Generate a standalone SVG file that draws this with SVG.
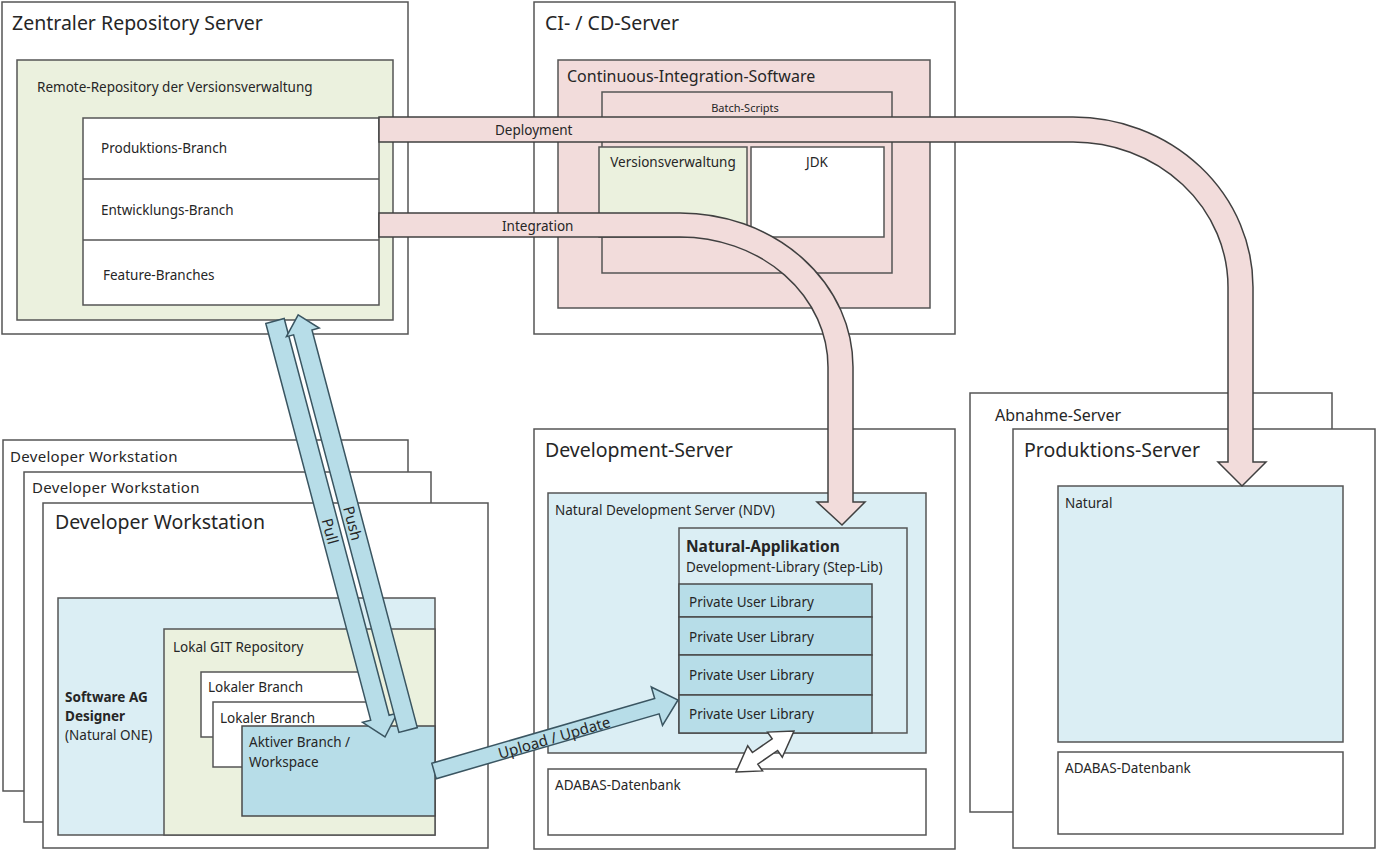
<svg xmlns="http://www.w3.org/2000/svg" width="1380" height="860" viewBox="0 0 1380 860">
<style>
text{font-family:"Noto Sans","Open Sans","Liberation Sans",sans-serif;fill:#262626}
.box{fill:#ffffff;stroke:#555555;stroke-width:1.5}
.grn{fill:#ebf1de;stroke:#555555;stroke-width:1.5}
.lb{fill:#dbeef4;stroke:#555555;stroke-width:1.5}
.mb{fill:#b7dde8;stroke:#4a4a4a;stroke-width:1.5}
.pk{fill:#f2dcdb;stroke:#555555;stroke-width:1.5}
.pkarrow{fill:#f2dcdb;stroke:#404040;stroke-width:1.5}
.blarrow{fill:#b7dde8;stroke:#3a5561;stroke-width:1.5}
.wharrow{fill:#ffffff;stroke:#404040;stroke-width:1.5}
.t19{font-size:19.5px}
.t16{font-size:16px}
.t15{font-size:15px}
.t15b{font-size:15.5px;font-weight:bold}
.t13{font-size:13.5px}
.t11{font-size:11px}
.b{font-weight:bold}
.lbl{font-size:15px}
</style>

<g id="zentraler-repository-server">
<rect class="box" x="2" y="2" width="406" height="332"/>
<text class="t19" x="12" y="30">Zentraler Repository Server</text>
<rect class="grn" x="17" y="60" width="376" height="260"/>
<text class="t13" x="37" y="92">Remote-Repository der Versionsverwaltung</text>
<rect class="box" x="83" y="118" width="296" height="187"/>
<line x1="83" y1="179" x2="379" y2="179" stroke="#555" stroke-width="1.5"/>
<line x1="83" y1="240" x2="379" y2="240" stroke="#555" stroke-width="1.5"/>
<text class="t13" x="101" y="153">Produktions-Branch</text>
<text class="t13" x="101" y="215">Entwicklungs-Branch</text>
<text class="t13" x="103" y="280">Feature-Branches</text>
</g>

<g id="ci-cd-server">
<rect class="box" x="534" y="2" width="421" height="332"/>
<text class="t19" x="545" y="30">CI- / CD-Server</text>
<rect class="pk" x="558" y="60" width="372" height="248"/>
<text class="t16" x="567" y="82">Continuous-Integration-Software</text>
<rect class="pk" x="602" y="92" width="290" height="181"/>
<text class="t11" x="745" y="112" text-anchor="middle">Batch-Scripts</text>
<rect class="grn" x="599" y="147" width="148" height="90"/>
<text class="t13" x="673" y="167" text-anchor="middle">Versionsverwaltung</text>
<rect class="box" x="751" y="147" width="133" height="90"/>
<text class="t13" x="817" y="167" text-anchor="middle">JDK</text>
</g>

<g id="developer-workstation-3">
<rect class="box" x="3" y="440" width="405" height="351"/>
<text class="t15" x="10" y="462" letter-spacing="0.3">Developer Workstation</text>
</g>
<g id="developer-workstation-2">
<rect class="box" x="24" y="472" width="407" height="350"/>
<text class="t15" x="32" y="493" letter-spacing="0.3">Developer Workstation</text>
</g>
<g id="developer-workstation">
<rect class="box" x="43" y="503" width="445" height="345"/>
<text class="t19" x="55" y="529">Developer Workstation</text>
<rect class="lb" x="58" y="598" width="377" height="237"/>
<text class="t13 b" x="65" y="702">Software AG</text>
<text class="t13 b" x="65" y="721">Designer</text>
<text class="t13" x="65" y="740">(Natural ONE)</text>
<rect class="grn" x="164" y="629" width="271" height="206"/>
<text class="t13" x="173" y="652">Lokal GIT Repository</text>
<rect class="box" x="201" y="672" width="170" height="65"/>
<text class="t13" x="208" y="692">Lokaler Branch</text>
<rect class="box" x="213" y="702" width="172" height="65"/>
<text class="t13" x="220" y="723">Lokaler Branch</text>
<rect class="mb" x="242" y="726" width="193" height="90"/>
<text class="t13" x="249" y="747">Aktiver Branch /</text>
<text class="t13" x="249" y="767">Workspace</text>
</g>

<g id="development-server">
<rect class="box" x="534" y="429" width="421" height="420"/>
<text class="t19" x="545" y="457">Development-Server</text>
<rect class="lb" x="548" y="493" width="378" height="260"/>
<text class="t13" x="555" y="515">Natural Development Server (NDV)</text>
<rect class="lb" x="679" y="528" width="228" height="205"/>
<text class="t15b" x="686" y="552">Natural-Applikation</text>
<text class="t13" x="686" y="572">Development-Library (Step-Lib)</text>
<rect class="mb" x="679" y="584" width="193" height="33"/>
<rect class="mb" x="679" y="617" width="193" height="38"/>
<rect class="mb" x="679" y="655" width="193" height="40"/>
<rect class="mb" x="679" y="695" width="193" height="38"/>
<text class="t13" x="689" y="607">Private User Library</text>
<text class="t13" x="689" y="642">Private User Library</text>
<text class="t13" x="689" y="680">Private User Library</text>
<text class="t13" x="689" y="719">Private User Library</text>
<rect class="box" x="548" y="769" width="378" height="66"/>
<text class="t13" x="555" y="790">ADABAS-Datenbank</text>
</g>

<g id="abnahme-server">
<rect class="box" x="970" y="393" width="362" height="419"/>
<text class="t16" x="995" y="421">Abnahme-Server</text>
</g>

<g id="produktions-server">
<rect class="box" x="1013" y="429" width="362" height="419"/>
<text class="t19" x="1024" y="457">Produktions-Server</text>
<rect class="lb" x="1058" y="486" width="285" height="256"/>
<text class="t13" x="1065" y="508">Natural</text>
<rect class="box" x="1058" y="752" width="285" height="82"/>
<text class="t13" x="1065" y="773">ADABAS-Datenbank</text>
</g>

<g id="connectors">
<path id="deployment" class="pkarrow" d="M379,117 L1073,117 A180,170 0 0 1 1253,287 L1253,462 L1266,462 L1242,486 L1218,462 L1228,462 L1228,287 A155,145 0 0 0 1073,142 L379,142 Z"/>
<text class="t13" x="495" y="135">Deployment</text>
<path id="integration" class="pkarrow" d="M379,213 L680,213 A173,154 0 0 1 853,367 L853,502 L865,502 L842,525 L817,502 L828,502 L828,367 A148,130 0 0 0 680,237 L379,237 Z"/>
<text class="t13" x="502" y="231">Integration</text>
<polygon id="pull" class="blarrow" points="265.8,323.5 284.2,318.5 389.1,715.3 397.3,713.1 385,737 362.5,722.3 370.7,720.1"/>
<polygon id="push" class="blarrow" points="298.2,314.9 319.2,328 312,330 417.3,727.6 398.9,732.4 293.6,334.8 286.4,336.7"/>
<text class="lbl" transform="translate(330.6,531) rotate(75.2)" text-anchor="middle" dominant-baseline="central">Pull</text>
<text class="lbl" transform="translate(353.3,523) rotate(75.2)" text-anchor="middle" dominant-baseline="central">Push</text>
<polygon id="upload" class="blarrow" points="431.8,763.3 654.7,698.5 651.3,687 678,700 662.5,725.4 659.1,713.9 436.2,778.7"/>
<text class="lbl" transform="translate(554,737) rotate(-16.3)" text-anchor="middle" dominant-baseline="central">Upload / Update</text>
<polygon id="db-sync" class="wharrow" points="736,772 762.5,770.9 757.8,764.1 777.6,750.5 782.3,757.3 794,731 767.5,732.1 772.2,738.9 752.4,752.5 747.7,745.7"/>
</g>
</svg>
